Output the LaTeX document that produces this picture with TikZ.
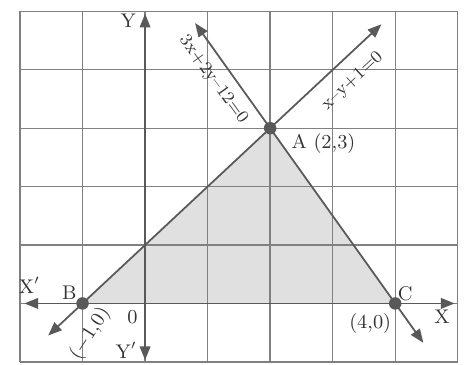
\documentclass[tikz,border=0pt]{standalone}
\usetikzlibrary{arrows.meta}
\begin{document}
\begin{tikzpicture}[x=1cm,y=0.934cm,
  gridline/.style={draw=black!50, line width=0.6pt},
  axisline/.style={draw=black!65, line width=0.8pt},
  eqline/.style={draw=black!65, line width=0.8pt},
  dot/.style={circle, fill=black!65, inner sep=0pt, minimum size=2.0mm},
  lbl/.style={text=black!80, font=\small, inner sep=1pt},
  eqlbl/.style={text=black!80, font=\footnotesize, inner sep=1pt}]
\useasboundingbox (-2.32,-1.04) rectangle (5.1,5.195);
% points
\coordinate (Ap) at (2,3);
\coordinate (Bp) at (-1,0);
\coordinate (Cp) at (4,0);
% shaded feasible region
\fill[black!12] (Ap) -- (Bp) -- (Cp) -- cycle;
% grid
\foreach \i in {-2,...,5} \draw[gridline] (\i,-1) -- (\i,5);
\foreach \j in {-1,...,5} \draw[gridline] (-2,\j) -- (5,\j);
% axes
\coordinate (xl) at (-1.93,0);
\coordinate (xr) at (4.95,0);
\coordinate (yb) at (0,-0.97);
\coordinate (yt) at (0,4.96);
\draw[axisline, {Triangle[length=2.2mm,width=1.7mm]}-{Triangle[length=2.2mm,width=1.7mm]}] (xl) -- (xr);
\draw[axisline, {Triangle[length=2.2mm,width=1.7mm]}-{Triangle[length=2.2mm,width=1.7mm]}] (yb) -- (yt);
% lines
\coordinate (l1s) at (-1.55,-0.55);
\coordinate (l1e) at (3.78,4.78);
\coordinate (l2s) at (0.8,4.8);
\coordinate (l2e) at (4.45,-0.675);
\draw[eqline, {Triangle[length=2.2mm,width=1.7mm]}-{Triangle[length=2.2mm,width=1.7mm]}] (l1s) -- (l1e);
\draw[eqline, {Triangle[length=2.2mm,width=1.7mm]}-{Triangle[length=2.2mm,width=1.7mm]}] (l2s) -- (l2e);
% dots
\node[dot] (A) at (Ap) {};
\node[dot] (B) at (Bp) {};
\node[dot] (C) at (Cp) {};
% labels
\node[lbl] (ly) at (-0.27,4.84) {Y};
\node[lbl] (lyp) at (-0.3,-0.8) {Y$'$};
\node[lbl] (lxp) at (-1.85,0.31) {X$'$};
\node[lbl] (lx) at (4.75,-0.22) {X};
\node[lbl] (lo) at (-0.2,-0.24) {0};
\node[lbl] (lb) at (-1.21,0.19) {B};
\node[lbl, rotate=57] (lbc) at (-0.88,-0.52) {($-$1,0)};
\node[lbl] (lc) at (4.16,0.17) {C};
\node[lbl] (lcc) at (3.6,-0.34) {(4,0)};
\node[lbl, anchor=west] (la) at (2.3,2.74) {A (2,3)};
\node[eqlbl, rotate=-54] (e1) at (1.09,3.83) {3x+2y--12=0};
\node[eqlbl, rotate=43] (e2) at (3.32,3.81) {x--y+1=0};
\end{tikzpicture}
\end{document}
